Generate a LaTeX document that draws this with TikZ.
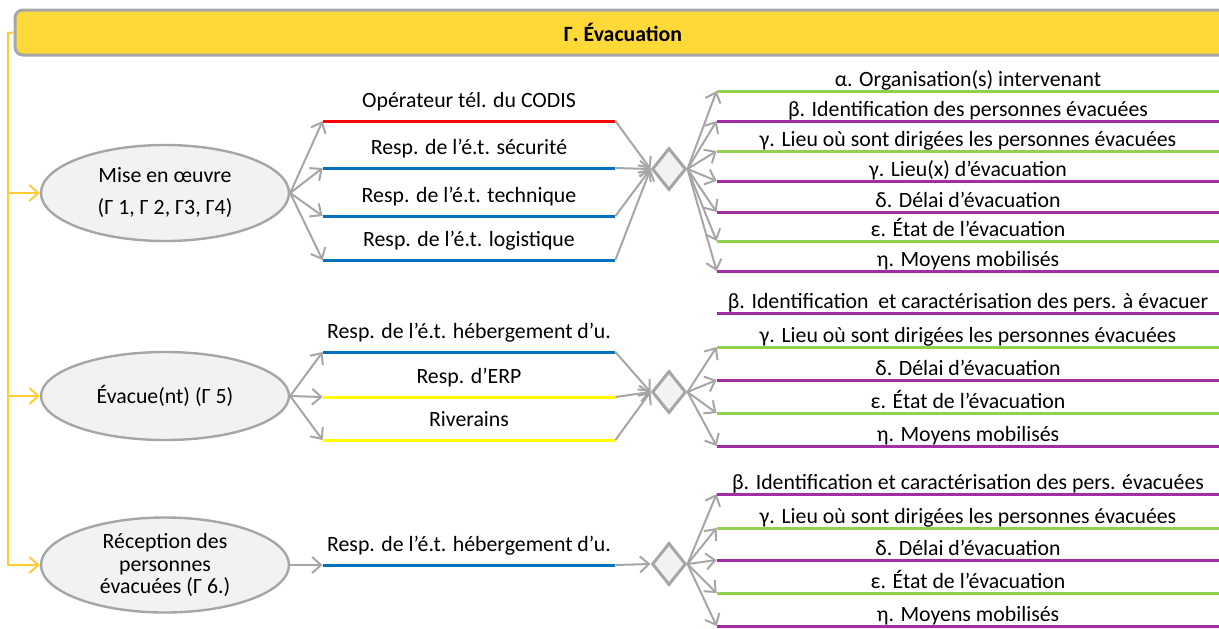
\documentclass[tikz,border=0pt]{standalone}
\usepackage{fontspec}
\setmainfont{Carlito}
\usetikzlibrary{positioning,arrows.meta,shapes.geometric}
\definecolor{barfill}{RGB}{255,217,56}
\definecolor{bargray}{RGB}{166,166,166}
\definecolor{spine}{RGB}{255,204,51}
\definecolor{ovalfill}{RGB}{242,242,242}
\definecolor{codisred}{RGB}{255,0,0}
\definecolor{respblue}{RGB}{0,112,192}
\definecolor{erpyellow}{RGB}{255,255,0}
\definecolor{itemgreen}{RGB}{146,208,80}
\definecolor{itempurple}{RGB}{163,45,165}

\tikzset{
  txt/.style={font=\fontsize{10.9}{13}\selectfont},
  oval/.style={ellipse,draw=bargray,fill=ovalfill,line width=1.2pt,inner sep=0pt,align=center,txt},
  actor/.style={anchor=south,minimum width=146pt,inner xsep=0pt,inner ysep=6.5pt,text depth=0pt,txt},
  info/.style={anchor=south,minimum width=251pt,inner xsep=0pt,inner ysep=2pt,text depth=0pt,txt},
  gate/.style={diamond,aspect=0.8,draw=bargray,fill=ovalfill,line width=1.5pt,
               minimum width=17pt,minimum height=21pt,inner sep=0pt},
  conn/.style={draw=bargray,line width=1pt,-{Straight Barb[length=4.5pt,width=8pt]}},
  feed/.style={draw=spine,line width=1pt,-{Straight Barb[length=4.5pt,width=8pt]}},
  uline/.style={line width=1.5pt}
}

\begin{document}
\begin{tikzpicture}[x=0.5pt,y=-0.5pt]
\useasboundingbox (0,0) rectangle (1219,628);

% title bar
\node[draw=bargray,fill=barfill,line width=1.5pt,rounded corners=4pt,
      minimum width=608pt,minimum height=22.5pt,
      font=\fontsize{10.9}{13}\selectfont\bfseries] (title) at (623,32.5) {Γ. Évacuation};
\coordinate (spine) at (8,33);

% the three stages
\node[oval,minimum width=124pt,minimum height=48pt] (mise) at (165,193)
  {Mise en œuvre\\[3pt](Γ 1, Γ 2, Γ3, Γ4)};
\node[oval,minimum width=124pt,minimum height=44pt] (evac) at (165,396)
  {Évacue(nt) (Γ 5)};
\node[oval,minimum width=124pt,minimum height=47.5pt,font=\fontsize{10.9}{11.3}\selectfont] (recep) at (165,565)
  {Réception des\\personnes\\évacuées (Γ 6.)};

\draw[feed] (title.west) -- (spine) |- (recep.west);
\draw[feed] (spine |- mise.west) -- (mise.west);
\draw[feed] (spine |- evac.west) -- (evac.west);

% gates
\node[gate] (g1) at (669,169) {};
\node[gate] (g2) at (669,392) {};
\node[gate] (g3) at (669,564) {};

% stage 1
\foreach \y/\c/\lbl [count=\i] in {121/codisred/{Opérateur tél. du CODIS},
    168/respblue/{Resp. de l’é.t. sécurité},
    216/respblue/{Resp. de l’é.t. technique},
    260/respblue/{Resp. de l’é.t. logistique}}{
  \node[actor] (a\i) at (469,\y) {\lbl};
  \draw[uline,\c] (a\i.south west) -- (a\i.south east);
  \draw[conn] (mise.east) -- (a\i.south west);
  \draw[conn] (a\i.south east) -- (g1.west);
}
\foreach \y/\c/\lbl [count=\i] in {91/itemgreen/{α. Organisation(s) intervenant},
    121/itempurple/{β. Identification des personnes évacuées},
    151/itemgreen/{γ. Lieu où sont dirigées les personnes évacuées},
    181/itempurple/{γ. Lieu(x) d’évacuation},
    212/itempurple/{δ. Délai d’évacuation},
    241/itemgreen/{ε. État de l’évacuation},
    271/itempurple/{η. Moyens mobilisés}}{
  \node[info] (r\i) at (968,\y) {\lbl};
  \draw[uline,\c] (r\i.south west) -- (r\i.south east);
  \draw[conn] (g1.east) -- (r\i.south west);
}

% stage 2
\foreach \y/\c/\lbl [count=\i] in {352/respblue/{Resp. de l’é.t. hébergement d’u.},
    397/erpyellow/{Resp. d’ERP},
    440/erpyellow/{Riverains}}{
  \node[actor] (b\i) at (469,\y) {\lbl};
  \draw[uline,\c] (b\i.south west) -- (b\i.south east);
  \draw[conn] (evac.east) -- (b\i.south west);
  \draw[conn] (b\i.south east) -- (g2.west);
}
\foreach \y/\c/\lbl [count=\i] in {313/itempurple/{β. Identification\ \ et caractérisation des pers. à évacuer},
    347/itemgreen/{γ. Lieu où sont dirigées les personnes évacuées},
    380/itempurple/{δ. Délai d’évacuation},
    413/itemgreen/{ε. État de l’évacuation},
    446/itempurple/{η. Moyens mobilisés}}{
  \node[info] (s\i) at (968,\y) {\lbl};
  \draw[uline,\c] (s\i.south west) -- (s\i.south east);
  \ifnum\i>1 \draw[conn] (g2.east) -- (s\i.south west); \fi
}

% stage 3
\node[actor] (c1) at (469,565) {Resp. de l’é.t. hébergement d’u.};
\draw[uline,respblue] (c1.south west) -- (c1.south east);
\draw[conn] (recep.east) -- (c1.south west);
\draw[conn] (c1.south east) -- (g3.west);
\foreach \y/\c/\lbl [count=\i] in {494/itempurple/{β. Identification et caractérisation des pers. évacuées},
    528/itemgreen/{γ. Lieu où sont dirigées les personnes évacuées},
    560/itempurple/{δ. Délai d’évacuation},
    593/itemgreen/{ε. État de l’évacuation},
    626/itempurple/{η. Moyens mobilisés}}{
  \node[info] (t\i) at (968,\y) {\lbl};
  \draw[uline,\c] (t\i.south west) -- (t\i.south east);
  \draw[conn] (g3.east) -- (t\i.south west);
}
\end{tikzpicture}
\end{document}
